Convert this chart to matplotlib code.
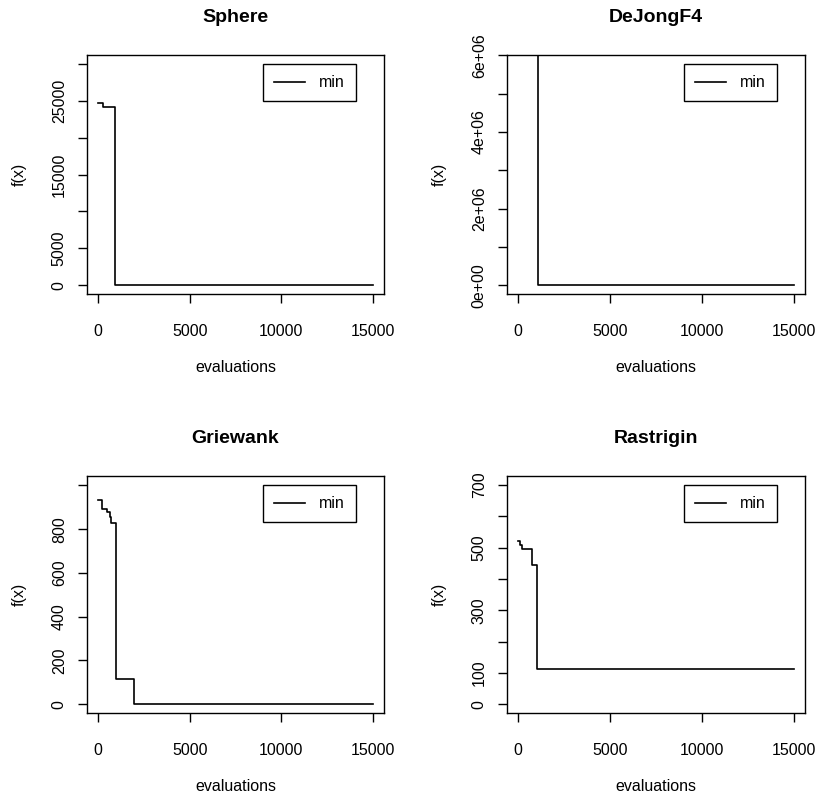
import numpy as np
import matplotlib
matplotlib.use("Agg")
import matplotlib.pyplot as plt

# ----------------------------------------------------
# data
# ----------------------------------------------------
TITLES = ["Sphere", "DeJongF4", "Griewank", "Rastrigin"]

SPHERE_EVALS = [0, 270, 950, 15000]
SPHERE_MIN = [24650, 24100, 20, 20]

DEJONG_EVALS = [0, 1060, 15000]
DEJONG_MIN = [9.0e6, 1500, 1500]

GRIEWANK_EVALS = [0, 218, 490, 633, 710, 961, 1983, 15000]
GRIEWANK_MIN = [935, 894, 879, 856, 830, 117, 2, 2]

RASTRIGIN_EVALS = [0, 110, 219, 733, 1007, 15000]
RASTRIGIN_MIN = [521, 508, 495, 446, 112, 112]

X_TICKS = [0, 5000, 10000, 15000]
X_TICKLABELS = ["0", "5000", "10000", "15000"]

SPHERE_YTICKS = [0, 5000, 10000, 15000, 20000, 25000, 30000]
SPHERE_YLABELS = ["0", "5000", "", "15000", "", "25000", ""]
DEJONG_YTICKS = [0, 1e6, 2e6, 3e6, 4e6, 5e6, 6e6]
DEJONG_YLABELS = ["0e+00", "", "2e+06", "", "4e+06", "", "6e+06"]
GRIEWANK_YTICKS = [0, 200, 400, 600, 800, 1000]
GRIEWANK_YLABELS = ["0", "200", "400", "600", "800", ""]
RASTRIGIN_YTICKS = [0, 100, 200, 300, 400, 500, 600, 700]
RASTRIGIN_YLABELS = ["0", "100", "", "300", "", "500", "", "700"]

# upper end of the data range used for the y axis (R adds 4% each side)
Y_TOP = [30020, 5.78e6, 1003, 701]

# ----------------------------------------------------
# layout
# ----------------------------------------------------
W, H = 815, 801
BOXES = [(87, 55, 384, 294), (507, 55, 805, 294),
         (87, 476, 384, 713), (507, 476, 805, 713)]

plt.rcParams['font.family'] = ['Liberation Sans', 'DejaVu Sans']

fig = plt.figure(figsize=(W / 100, H / 100), dpi=100)

series = [(SPHERE_EVALS, SPHERE_MIN, SPHERE_YTICKS, SPHERE_YLABELS),
          (DEJONG_EVALS, DEJONG_MIN, DEJONG_YTICKS, DEJONG_YLABELS),
          (GRIEWANK_EVALS, GRIEWANK_MIN, GRIEWANK_YTICKS, GRIEWANK_YLABELS),
          (RASTRIGIN_EVALS, RASTRIGIN_MIN, RASTRIGIN_YTICKS, RASTRIGIN_YLABELS)]

for i, (evals, vals, yt, yl) in enumerate(series):
    x0, y0, x1, y1 = BOXES[i]
    ax = fig.add_axes([x0 / W, 1 - y1 / H, (x1 - x0) / W, (y1 - y0) / H])

    ax.plot(evals, vals, drawstyle='steps-post', color='black',
            linewidth=1.2, label='min')

    ax.set_xlim(-600, 15600)
    top = Y_TOP[i]
    ax.set_ylim(-0.04 * top, 1.04 * top)

    ax.set_xticks(X_TICKS)
    ax.set_xticklabels(X_TICKLABELS)
    ax.set_yticks(yt)
    ax.set_yticklabels(yl, rotation=90, va='center')

    ax.tick_params(axis='both', direction='out', length=6.5, width=1.0,
                   labelsize=11.5, colors='black')
    ax.tick_params(axis='x', pad=15)
    ax.tick_params(axis='y', pad=8)

    for sp in ax.spines.values():
        sp.set_linewidth(1.0)
        sp.set_color('black')

    ax.set_title(TITLES[i], fontsize=14, fontweight='bold', pad=24)
    ax.set_xlabel('evaluations', fontsize=11.5, labelpad=15)
    ax.set_ylabel('f(x)', fontsize=11.5, labelpad=18)

    leg = ax.legend(loc='upper right', bbox_to_anchor=(0.905, 0.962),
                    borderaxespad=0, fancybox=False, framealpha=1,
                    edgecolor='black', fontsize=11.5, borderpad=0.7,
                    handlelength=1.95, handletextpad=0.85)
    leg.get_frame().set_linewidth(1.0)

fig.savefig("out.png", dpi=100, facecolor='white')
